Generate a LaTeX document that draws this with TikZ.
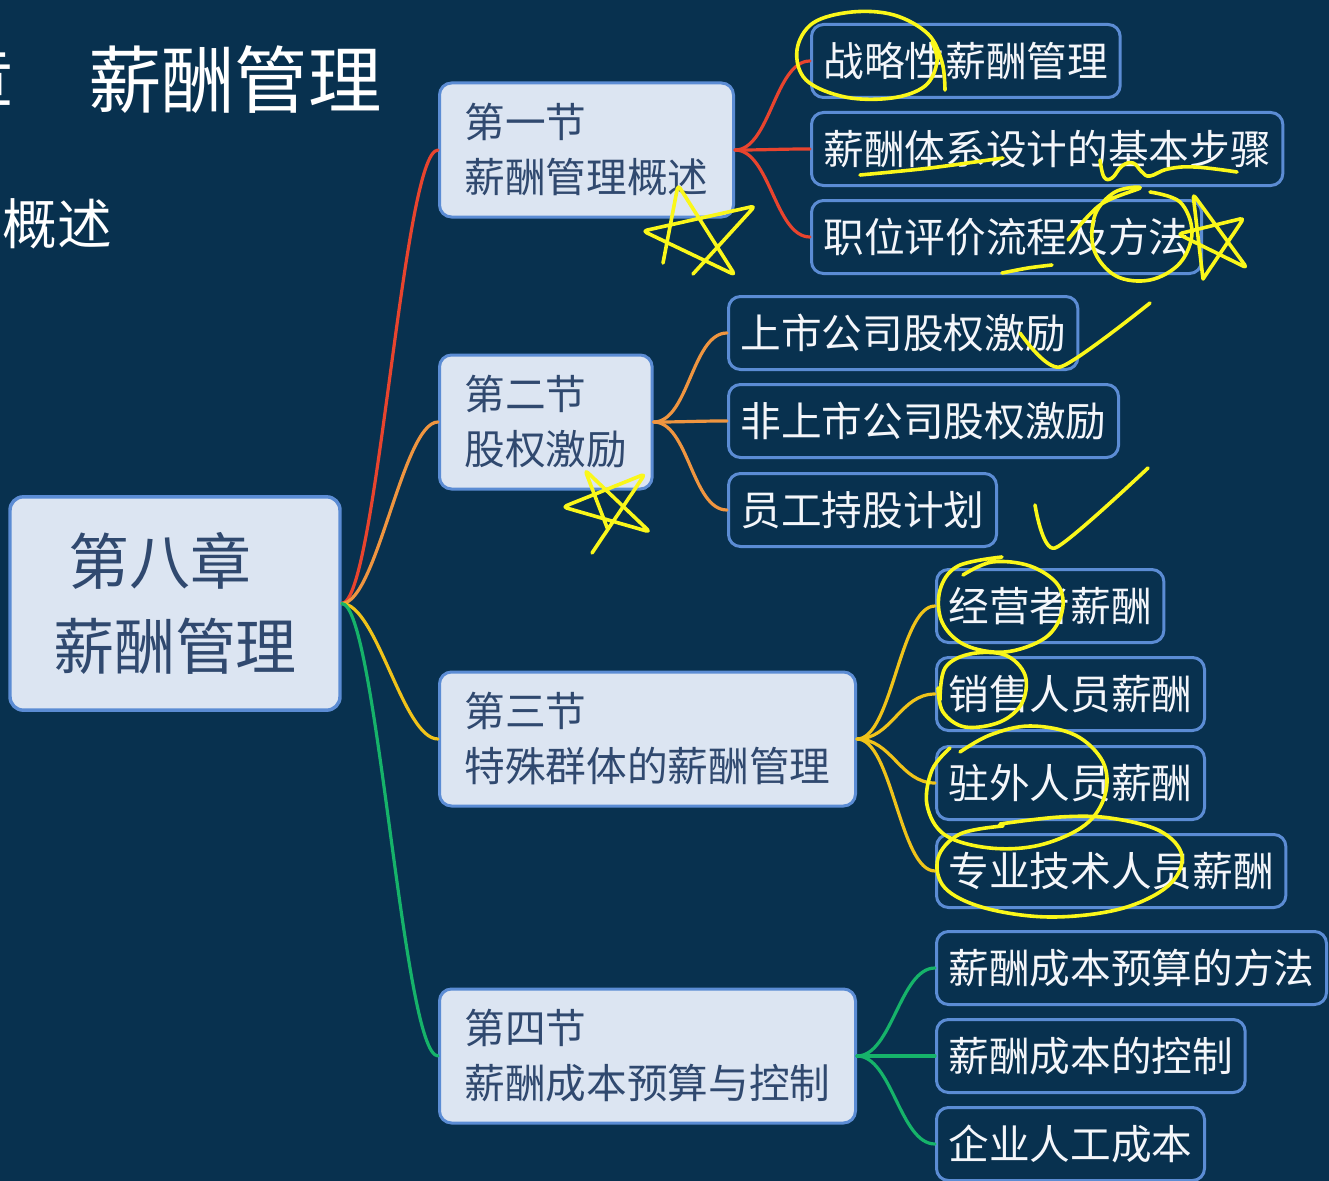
\documentclass[tikz,border=0pt]{standalone}
\usepackage{fontspec}
\setmainfont{Noto Sans CJK SC}
\definecolor{bg}{HTML}{08314F}
\definecolor{nodefill}{HTML}{DCE5F2}
\definecolor{nodeborder}{HTML}{5B8CD4}
\definecolor{sectext}{HTML}{30496F}
\definecolor{leaftext}{HTML}{F4F6FA}
\definecolor{cred}{HTML}{E8442E}
\definecolor{corange}{HTML}{EF9540}
\definecolor{cyellow}{HTML}{F0C31A}
\definecolor{cgreen}{HTML}{16B36A}
\definecolor{hl}{HTML}{FAF71A}
\tikzset{
  leafbox/.style={draw=nodeborder, line width=2.25pt, rounded corners=9pt, fill=bg, text=leaftext,
    font=\fontsize{30.5}{36}\selectfont, inner xsep=9pt, inner ysep=0pt, minimum height=54.75pt, anchor=west},
  secbox/.style={draw=nodeborder, line width=2.25pt, rounded corners=9pt, fill=nodefill, text=sectext,
    font=\fontsize{30.5}{41.25}\selectfont, align=left, inner xsep=18.75pt, inner ysep=0pt,
    minimum height=100.5pt, anchor=west},
  mainbox/.style={draw=nodeborder, line width=2.6pt, rounded corners=10pt, fill=nodefill, text=sectext,
    font=\fontsize{45.75}{63.75}\selectfont, align=center, minimum width=247.5pt, minimum height=160pt},
  branch/.style={line width=2.4pt, line cap=round},
  ink/.style={draw=hl, line width=2.7pt, line cap=round, line join=round},
  titletext/.style={text=white, inner sep=0pt}
}
\begin{document}
\begin{tikzpicture}[x=0.75pt,y=-0.75pt]
\useasboundingbox (0,0) rectangle (1329,1181);
\fill[bg] (0,0) rectangle (1329,1181);
\clip (0,0) rectangle (1329,1181);

% title texts
\node[titletext, anchor=east, font=\fontsize{55}{60}\selectfont] (tch) at (14,80) {第八章};
\node[titletext, anchor=west, font=\fontsize{55}{60}\selectfont] (ttl) at (88,80) {薪酬管理};
\node[titletext, anchor=east, font=\fontsize{41}{45}\selectfont] (tsec) at (112,224) {概述};

% main node
\node[mainbox] (main) at (175,603.5) {第八章\hspace*{0.5em}\\薪酬管理};

% sections
\node[secbox] (s1) at (438,150) {第一节\\薪酬管理概述};
\node[secbox] (s2) at (438,422) {第二节\\股权激励};
\node[secbox] (s3) at (438,739) {第三节\\特殊群体的薪酬管理};
\node[secbox] (s4) at (438,1056) {第四节\\薪酬成本预算与控制};

% leaves
\node[leafbox] (l11) at (810,61) {战略性薪酬管理};
\node[leafbox] (l12) at (810,149) {薪酬体系设计的基本步骤};
\node[leafbox] (l13) at (810,237) {职位评价流程及方法};
\node[leafbox] (l21) at (727,333) {上市公司股权激励};
\node[leafbox] (l22) at (727,421) {非上市公司股权激励};
\node[leafbox] (l23) at (727,510) {员工持股计划};
\node[leafbox] (l31) at (935,606) {经营者薪酬};
\node[leafbox] (l32) at (935,694) {销售人员薪酬};
\node[leafbox] (l33) at (935,783) {驻外人员薪酬};
\node[leafbox] (l34) at (935,871) {专业技术人员薪酬};
\node[leafbox] (l41) at (935,968) {薪酬成本预算的方法};
\node[leafbox] (l42) at (935,1056) {薪酬成本的控制};
\node[leafbox] (l43) at (935,1144) {企业人工成本};

% main branches
\draw[branch, cred] (main.east) .. controls +(35,0) and +(-35,0) .. (s1.west);
\draw[branch, corange] (main.east) .. controls +(35,0) and +(-35,0) .. (s2.west);
\draw[branch, cyellow] (main.east) .. controls +(35,0) and +(-35,0) .. (s3.west);
\draw[branch, cgreen] (main.east) .. controls +(35,0) and +(-35,0) .. (s4.west);

% leaf branches
\foreach \l in {l11,l12,l13}{\draw[branch, cred] (s1.east) .. controls +(35,0) and +(-35,0) .. (\l.west);}
\foreach \l in {l21,l22,l23}{\draw[branch, corange] (s2.east) .. controls +(35,0) and +(-35,0) .. (\l.west);}
\foreach \l in {l31,l32,l33,l34}{\draw[branch, cyellow] (s3.east) .. controls +(35,0) and +(-35,0) .. (\l.west);}
\foreach \l in {l41,l42,l43}{\draw[branch, cgreen] (s4.east) .. controls +(35,0) and +(-35,0) .. (\l.west);}

% yellow hand annotations
\draw[ink] plot[smooth, tension=0.6] coordinates {(945,90) (942,62) (928,34) (894,15) (852,12) (813,23) (797,50) (806,80) (845,97) (892,98) (925,86) (937,62) (932,42)};
\draw[ink] plot[smooth] coordinates {(860,175) (930,168) (1003,158)};
\draw[ink] plot[smooth, tension=0.7] coordinates {(1100,160) (1104,177) (1112,178) (1122,166) (1133,163) (1142,172) (1150,176) (1168,169) (1195,167) (1237,172)};
\draw[ink] plot[smooth] coordinates {(1002,273) (1028,268) (1052,265)};
\draw[ink] plot[smooth, tension=0.6] coordinates {(1068,240) (1100,205) (1140,188) (1115,192) (1095,215) (1094,250) (1116,276) (1150,280) (1180,263) (1192,232) (1180,202) (1150,192)};
\draw[ink, rounded corners=3pt] (1203,279) -- (1193,194) -- (1247,268) -- (1178,234) -- (1244,218) -- (1203,279);
\draw[ink, rounded corners=3pt] (663,263) -- (678,185) -- (735,275) -- (643,231) -- (755,206) -- (693,274);
\draw[ink, rounded corners=3pt] (608,530) -- (585,470) -- (650,532) -- (563,507) -- (645,474) -- (592,553);
\draw[ink] plot[smooth, tension=0.4] coordinates {(1020,333) (1060,367) (1150,303)};
\draw[ink] plot[smooth, tension=0.4] coordinates {(1035,505) (1055,548) (1148,468)};
\draw[ink] plot[smooth, tension=0.6] coordinates {(963,575) (992,562) (1030,566) (1058,585) (1062,612) (1045,638) (1005,652) (965,645) (942,622) (940,590) (958,566) (1002,557)};
\draw[ink] plot[smooth, tension=0.6] coordinates {(940,700) (945,668) (970,654) (1005,655) (1025,675) (1022,703) (1000,722) (965,727) (943,712) (938,688)};
\draw[ink] plot[smooth, tension=0.6] coordinates {(960,752) (990,735) (1030,726) (1075,735) (1103,762) (1105,795) (1085,825) (1040,845) (990,848) (945,835) (927,805) (932,770) (950,748)};
\draw[ink] plot[smooth, tension=0.6] coordinates {(1003,826) (960,834) (938,858) (945,888) (985,908) (1050,917) (1120,909) (1168,886) (1182,856) (1160,831) (1110,818) (1060,817) (1000,824)};
\end{tikzpicture}
\end{document}
